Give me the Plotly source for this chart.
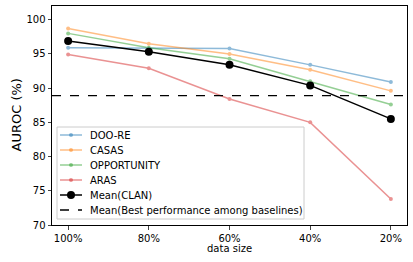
import plotly.graph_objects as go

sizes = ["100%", "80%", "60%", "40%", "20%"]
doore = [95.9, 95.8, 95.8, 93.4, 90.9]
casas = [98.7, 96.5, 95.0, 92.7, 89.6]
opportunity = [98.0, 95.9, 94.3, 91.0, 87.6]
aras = [94.9, 92.9, 88.4, 85.0, 73.8]
mean_clan = [96.9, 95.3, 93.4, 90.4, 85.5]
baseline_mean = 88.9

series_names = ["DOO-RE", "CASAS", "OPPORTUNITY", "ARAS"]
series_colors = ["#1f77b4", "#ff7f0e", "#2ca02c", "#d62728"]
series_values = [doore, casas, opportunity, aras]
mean_name = "Mean(CLAN)"
base_name = "Mean(Best performance among baselines)"

font = "DejaVu Sans"
W, H = 413, 262
L, R, T, B = 52, 6, 6, 37
pw, ph = W - L - R, H - T - B

fig = go.Figure()
for name, vals, col in zip(series_names, series_values, series_colors):
    fig.add_trace(go.Scatter(x=sizes, y=vals, name=name, mode="lines+markers",
                             line=dict(color=col, width=1.5), marker=dict(size=4, color=col),
                             opacity=0.5))
fig.add_trace(go.Scatter(x=sizes, y=mean_clan, name=mean_name, mode="lines+markers",
                         line=dict(color="black", width=1.5), marker=dict(size=8, color="black")))
fig.add_trace(go.Scatter(x=[-0.2, 4.2], y=[baseline_mean, baseline_mean], xaxis="x2",
                         name=base_name, mode="lines",
                         line=dict(color="black", width=1.3, dash="dash")))

# manual legend (matplotlib-like compact layout), in pixel -> paper coords
def px(xp):
    return (xp - L) / pw

def py(yp):
    return (H - B - yp) / ph

shapes = [dict(type="rect", xref="paper", yref="paper", x0=px(57), x1=px(304), y0=py(219), y1=py(127),
               line=dict(color="#cccccc", width=1), fillcolor="rgba(255,255,255,0.8)", layer="above")]
annotations = []
entries = [(n, c, 0.5, "small") for n, c in zip(series_names, series_colors)]
entries += [(mean_name, "black", 1.0, "big"), (base_name, "black", 1.0, "dash")]
row_y = [135, 150, 165, 180, 195, 210]
for (name, col, op, kind), yy in zip(entries, row_y):
    shapes.append(dict(type="line", xref="paper", yref="paper", x0=px(60), x1=px(82), y0=py(yy), y1=py(yy),
                       line=dict(color=col, width=1.5 if kind != "dash" else 1.3,
                                 dash="dash" if kind == "dash" else "solid"),
                       opacity=op, layer="above"))
    if kind != "dash":
        r = 2 if kind == "small" else 4
        shapes.append(dict(type="circle", xref="paper", yref="paper", xsizemode="pixel", ysizemode="pixel",
                           xanchor=px(71), yanchor=py(yy), x0=-r, x1=r, y0=-r, y1=r,
                           fillcolor=col, line=dict(width=0), opacity=op, layer="above"))
    annotations.append(dict(xref="paper", yref="paper", x=px(88), y=py(yy), xanchor="left", yanchor="middle",
                            text=name, showarrow=False, font=dict(size=10, family=font, color="black")))

annotations.append(dict(xref="paper", yref="paper", x=0.5, y=py(248), xanchor="center", yanchor="middle",
                        text="data size", showarrow=False, font=dict(size=10, family=font)))
annotations.append(dict(xref="paper", yref="paper", x=px(16), y=0.5, xanchor="center", yanchor="middle",
                        text="AUROC (%)", textangle=-90, showarrow=False, font=dict(size=13, family=font)))

fig.update_layout(
    width=W, height=H, margin=dict(l=L, r=R, t=T, b=B),
    paper_bgcolor="white", plot_bgcolor="white",
    font=dict(family=font, size=10, color="black"),
    showlegend=False,
    shapes=shapes, annotations=annotations,
    xaxis=dict(type="category", range=[-0.2, 4.2], showgrid=False, showline=True, automargin=False,
               linecolor="black", linewidth=1, mirror=True, ticks="outside", ticklen=3.5),
    xaxis2=dict(overlaying="x", range=[-0.2, 4.2], visible=False),
    yaxis=dict(range=[70, 102], dtick=5, showgrid=False, showline=True, linecolor="black", automargin=False,
               linewidth=1, mirror=True, ticks="outside", ticklen=3.5),
)
fig.write_html("out.html", config={"displayModeBar": False},
               post_script="document.body.style.margin='0';document.body.style.padding='0';")
